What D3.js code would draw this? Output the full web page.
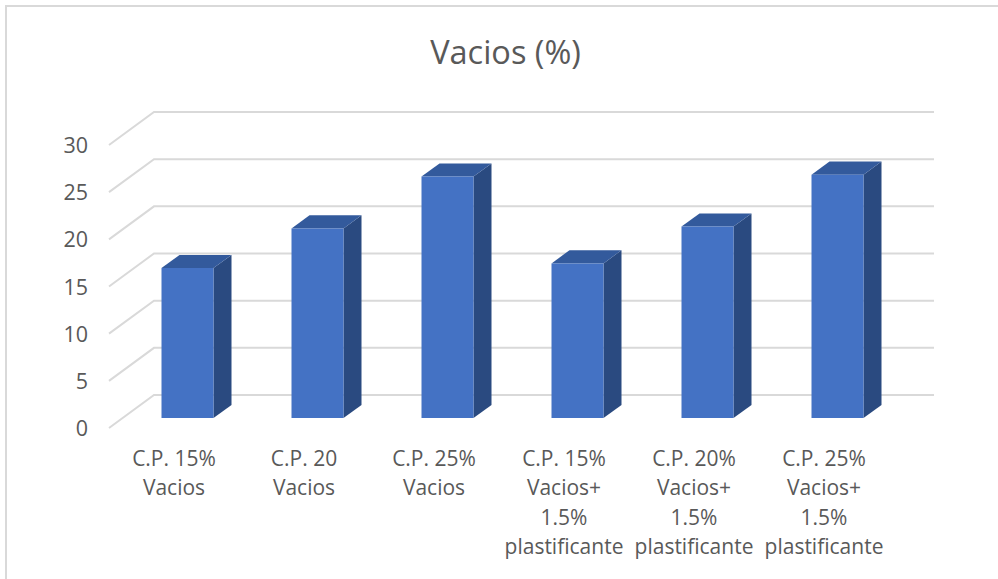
<!DOCTYPE html>
<html><head><meta charset="utf-8">
<script src="https://cdn.jsdelivr.net/npm/d3@7"></script>
<style>html,body{margin:0;padding:0;background:#fff}svg{display:block}text{font-family:"Open Sans",sans-serif}</style>
</head><body><svg id="c" width="998" height="579"></svg>
<script>
const title = "Vacios (%)";
const categories = [["C.P. 15%","Vacios"],["C.P. 20","Vacios"],["C.P. 25%","Vacios"],
  ["C.P. 15%","Vacios+","1.5%","plastificante"],["C.P. 20%","Vacios+","1.5%","plastificante"],["C.P. 25%","Vacios+","1.5%","plastificante"]];
const values = [15.9, 20.1, 25.6, 16.4, 20.3, 25.8];
const yTicks = [0,5,10,15,20,25,30];

const svg = d3.select("#c");
const idx = categories.map((_,i)=>i);
const x = d3.scaleBand().domain(idx).range([109,889]).paddingInner(0).paddingOuter(0);
const y = d3.scaleLinear().domain([0,30]).range([428,145]);
const depthX = 45, depthY = -33;
const P = (px, v, d) => [px + d*depthX, y(v) + d*depthY];
const line = d3.line();

svg.append("path").attr("d",line([[6,579],[6,6],[998,6]])).attr("fill","none").attr("stroke","#d9d9d9").attr("stroke-width",2);

svg.append("text").attr("x",505.5).attr("y",64).attr("text-anchor","middle").attr("font-size",32.5).attr("fill","#595959").text(title);

const grid = svg.append("g").attr("fill","none").attr("stroke","#d9d9d9").attr("stroke-width",2);
yTicks.forEach(t=>{
  grid.append("path").attr("d",line([P(109,t,0),P(109,t,1),P(889,t,1)]));
});

const axis = svg.append("g").attr("font-size",21.5).attr("fill","#595959");
yTicks.forEach(t=>{
  axis.append("text").attr("x",88).attr("y",y(t)+8).attr("text-anchor","end").text(t);
});

const f0=0.3, f1=0.7;
const bw = x.bandwidth()*0.4;
const bars = svg.append("g");
idx.forEach(i=>{
  const l = x(i)+(x.bandwidth()-bw)/2, r = l+bw, v = values[i];
  const g = bars.append("g");
  g.append("path").attr("d",line([P(r,0,f0),P(r,v,f0),P(r,v,f1),P(r,0,f1)])+"Z").attr("fill","#2a4a80");
  g.append("path").attr("d",line([P(l,v,f0),P(r,v,f0),P(r,v,f1),P(l,v,f1)])+"Z").attr("fill","#335a9c");
  g.append("path").attr("d",line([P(l,0,f0),P(r,0,f0),P(r,v,f0),P(l,v,f0)])+"Z").attr("fill","#4472c4");
});

const labels = svg.append("g").attr("font-size",21).attr("fill","#595959").attr("text-anchor","middle");
idx.forEach(i=>{
  const t = labels.append("text");
  categories[i].forEach((s,k)=>{
    t.append("tspan").attr("x",x(i)+x.bandwidth()/2).attr("y",465.5+k*29.6).text(s);
  });
});
</script></body></html>
